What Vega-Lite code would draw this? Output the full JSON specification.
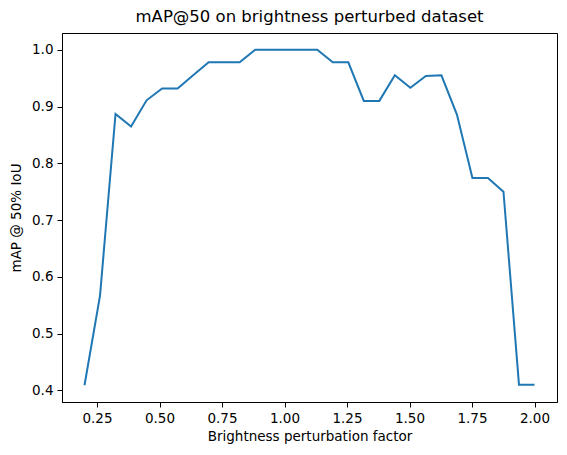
{
  "$schema": "https://vega.github.io/schema/vega-lite/v6.json",
  "width": 495,
  "height": 369,
  "autosize": "none",
  "padding": {"left": 62, "top": 33, "right": 10, "bottom": 53},
  "background": "white",
  "title": {
    "text": "mAP@50 on brightness perturbed dataset",
    "font": "DejaVu Sans",
    "fontSize": 16.5,
    "fontWeight": "normal",
    "color": "black",
    "anchor": "middle",
    "offset": 8
  },
  "config": {
    "view": {"stroke": "black", "strokeWidth": 1},
    "axis": {
      "labelFont": "DejaVu Sans",
      "titleFont": "DejaVu Sans",
      "labelFontSize": 13.5,
      "titleFontSize": 13.5,
      "titleFontWeight": "normal",
      "labelColor": "black",
      "titleColor": "black",
      "domainColor": "black",
      "tickColor": "black",
      "tickSize": 5,
      "labelPadding": 4,
      "grid": false
    }
  },
  "data": {
    "values": [
      {"factor": 0.2, "map": 0.409},
      {"factor": 0.2621, "map": 0.567},
      {"factor": 0.3241, "map": 0.887},
      {"factor": 0.3862, "map": 0.865},
      {"factor": 0.4483, "map": 0.911},
      {"factor": 0.5103, "map": 0.932},
      {"factor": 0.5724, "map": 0.932},
      {"factor": 0.6345, "map": 0.955},
      {"factor": 0.6966, "map": 0.978},
      {"factor": 0.7586, "map": 0.978},
      {"factor": 0.8207, "map": 0.978},
      {"factor": 0.8828, "map": 1.0},
      {"factor": 0.9448, "map": 1.0},
      {"factor": 1.0069, "map": 1.0},
      {"factor": 1.069, "map": 1.0},
      {"factor": 1.131, "map": 1.0},
      {"factor": 1.1931, "map": 0.978},
      {"factor": 1.2552, "map": 0.978},
      {"factor": 1.3172, "map": 0.91},
      {"factor": 1.3793, "map": 0.91},
      {"factor": 1.4414, "map": 0.955},
      {"factor": 1.5034, "map": 0.933},
      {"factor": 1.5655, "map": 0.954},
      {"factor": 1.6276, "map": 0.955},
      {"factor": 1.6897, "map": 0.886},
      {"factor": 1.7517, "map": 0.774},
      {"factor": 1.8138, "map": 0.774},
      {"factor": 1.8759, "map": 0.75},
      {"factor": 1.9379, "map": 0.41},
      {"factor": 2.0, "map": 0.41}
    ]
  },
  "mark": {"type": "line", "color": "#1f77b4", "strokeWidth": 2},
  "encoding": {
    "x": {
      "field": "factor",
      "type": "quantitative",
      "scale": {"domain": [0.11, 2.09], "nice": false, "zero": false},
      "axis": {
        "values": [0.25, 0.5, 0.75, 1.0, 1.25, 1.5, 1.75, 2.0],
        "format": ".2f",
        "title": "Brightness perturbation factor",
        "titlePadding": 5
      }
    },
    "y": {
      "field": "map",
      "type": "quantitative",
      "scale": {"domain": [0.3795, 1.0296], "nice": false, "zero": false},
      "axis": {
        "values": [0.4, 0.5, 0.6, 0.7, 0.8, 0.9, 1.0],
        "format": ".1f",
        "title": "mAP @ 50% IoU",
        "titlePadding": 8
      }
    }
  }
}
